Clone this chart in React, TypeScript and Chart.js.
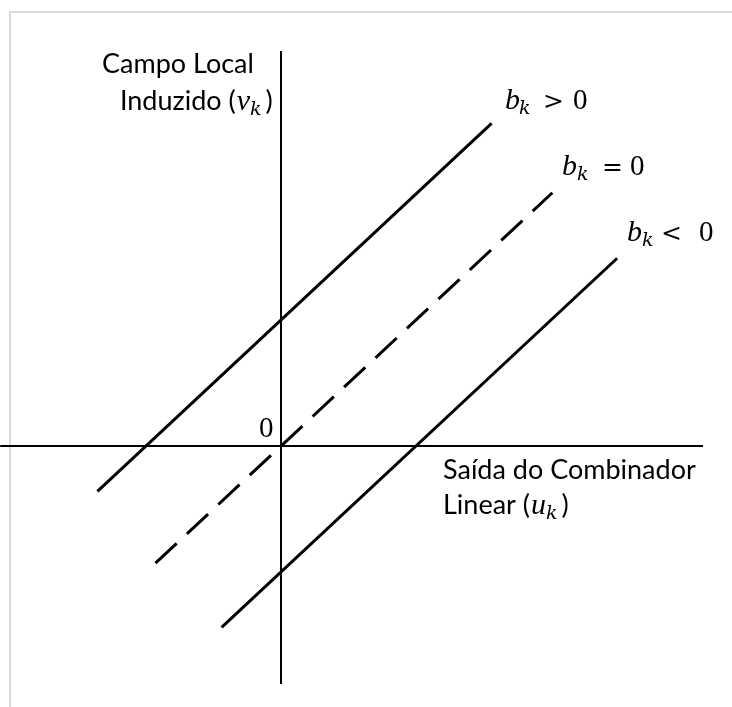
import React, { useEffect, useRef } from "react";
import { Chart, registerables } from "chart.js";

Chart.register(...registerables);

// Scale ranges (data units: u horizontal, v vertical)
const U_RANGE = [-2.0815, 3.3407];
const V_RANGE = [-2.0714, 3.5397];

// Axes extents
const U_AXIS = [-2.08, 3.126];
const V_AXIS = [-1.889, 3.135];

// Bias values for the three lines v = u + b
const BIAS = [1, 0, -1];

// Line b_k > 0
const U_POS = [-1.36, 1.56];
const V_POS = [-0.36, 2.56];
// Line b_k = 0 (dashed)
const U_ZERO = [-0.93, 2.01];
const V_ZERO = [-0.93, 2.01];
// Line b_k < 0
const U_NEG = [-0.44, 2.49];
const V_NEG = [-1.44, 1.49];

const TXT = '27px Lato';
const MI = 'italic 30px "Liberation Serif"';
const SUB = 'italic 19px "DejaVu Serif"';
const REL = '25px "DejaVu Serif"';
const NUM = '29px "Liberation Serif"';

type Run = { t: string; font: string; at?: number; gap?: number; dy?: number };
type Label = { u: number; v: number; runs: Run[] };

const LABELS: Label[] = [
  { u: -1.326, v: 2.96, runs: [{ t: "Campo Local", font: TXT }] },
  {
    u: -1.193,
    v: 2.667,
    runs: [
      { t: "Induzido (", font: TXT },
      { t: "v", font: MI, gap: 1 },
      { t: "k", font: SUB, dy: 5 },
      { t: ")", font: TXT, gap: 4 },
    ],
  },
  { u: -0.163, v: 0.071, runs: [{ t: "0", font: NUM }] },
  { u: 1.2, v: -0.262, runs: [{ t: "Saída do Combinador", font: TXT }] },
  {
    u: 1.2,
    v: -0.54,
    runs: [
      { t: "Linear (", font: TXT },
      { t: "u", font: MI, gap: 1 },
      { t: "k", font: SUB, dy: 5 },
      { t: ")", font: TXT, gap: 4 },
    ],
  },
  {
    u: 1.659,
    v: 2.675,
    runs: [
      { t: "b", font: MI, at: 0 },
      { t: "k", font: SUB, at: 14, dy: 5 },
      { t: ">", font: REL, at: 38 },
      { t: "0", font: NUM, at: 68 },
    ],
  },
  {
    u: 2.081,
    v: 2.151,
    runs: [
      { t: "b", font: MI, at: 0 },
      { t: "k", font: SUB, at: 15, dy: 5 },
      { t: "=", font: REL, at: 40 },
      { t: "0", font: NUM, at: 68 },
    ],
  },
  {
    u: 2.563,
    v: 1.627,
    runs: [
      { t: "b", font: MI, at: 0 },
      { t: "k", font: SUB, at: 15, dy: 5 },
      { t: "<", font: REL, at: 34 },
      { t: "0", font: NUM, at: 72 },
    ],
  },
];

const labelPlugin = {
  id: "labels",
  afterDatasetsDraw(chart: any) {
    const ctx = chart.ctx as CanvasRenderingContext2D;
    const xs = chart.scales.x;
    const ys = chart.scales.y;
    ctx.save();
    ctx.fillStyle = "#000";
    ctx.textBaseline = "alphabetic";
    ctx.textAlign = "left";
    for (const lb of LABELS) {
      const x0 = xs.getPixelForValue(lb.u);
      const y0 = ys.getPixelForValue(lb.v);
      let cx = x0;
      for (const r of lb.runs) {
        ctx.font = r.font;
        if (r.at !== undefined) cx = x0 + r.at;
        else cx += r.gap || 0;
        ctx.fillText(r.t, cx, y0 + (r.dy || 0));
        cx += ctx.measureText(r.t).width;
      }
    }
    ctx.restore();
  },
};

function pts(us: number[], vs: number[]) {
  return us.map((u, i) => ({ x: u, y: vs[i] }));
}

export default function App() {
  const ref = useRef<HTMLCanvasElement | null>(null);
  useEffect(() => {
    if (!ref.current) return;
    const base = {
      showLine: true,
      pointRadius: 0,
      borderColor: "#000",
      backgroundColor: "#000",
      fill: false,
      tension: 0,
      borderCapStyle: "butt" as const,
    };
    const chart = new Chart(ref.current, {
      type: "scatter",
      data: {
        datasets: [
          { ...base, label: "u axis", data: pts(U_AXIS, [0, 0]), borderWidth: 2 },
          { ...base, label: "v axis", data: pts([0, 0], V_AXIS), borderWidth: 2 },
          { ...base, label: `b = ${BIAS[0]}`, data: pts(U_POS, V_POS), borderWidth: 3 },
          { ...base, label: `b = ${BIAS[1]}`, data: pts(U_ZERO, V_ZERO), borderWidth: 3, borderDash: [29, 14] },
          { ...base, label: `b = ${BIAS[2]}`, data: pts(U_NEG, V_NEG), borderWidth: 3 },
        ],
      },
      options: {
        responsive: false,
        animation: false,
        layout: { padding: 0 },
        plugins: { legend: { display: false }, tooltip: { enabled: false } },
        scales: {
          x: { type: "linear", display: false, min: U_RANGE[0], max: U_RANGE[1] },
          y: { type: "linear", display: false, min: V_RANGE[0], max: V_RANGE[1] },
        },
      },
      plugins: [labelPlugin],
    });
    return () => chart.destroy();
  }, []);

  return (
    <div style={{ position: "fixed", left: 0, top: 0, width: 732, height: 707, background: "#fff" }}>
      <div
        style={{
          position: "absolute",
          left: 9,
          top: 11,
          right: 0,
          bottom: 0,
          borderLeft: "2px solid #d9d9d9",
          borderTop: "2px solid #d9d9d9",
        }}
      />
      <canvas ref={ref} width={732} height={707} style={{ position: "absolute", left: 0, top: 0, display: "block" }} />
    </div>
  );
}
